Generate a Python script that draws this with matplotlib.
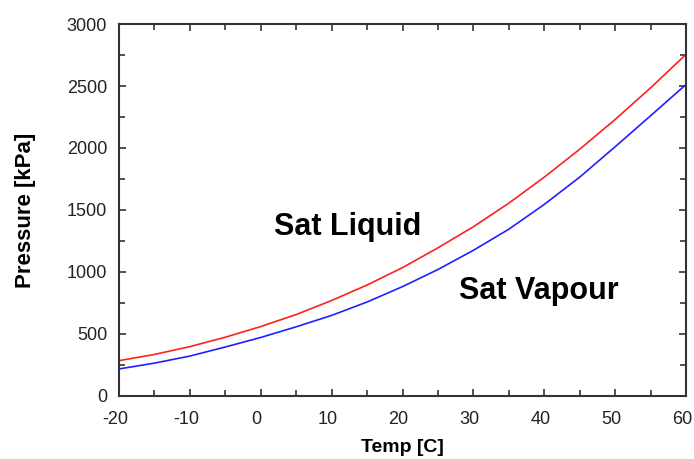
import matplotlib
matplotlib.use("Agg")
from matplotlib import pyplot as plt
from matplotlib.ticker import MultipleLocator
from matplotlib.transforms import ScaledTranslation

# saturation curves
temp = [-20, -15, -10, -5, 0, 5, 10, 15, 20, 25, 30, 35, 40, 45, 50, 55, 60]
p_liquid = [285, 335, 398, 474, 560, 657, 770, 895, 1035, 1195, 1365, 1555,
            1765, 1990, 2230, 2485, 2755]
p_vapour = [218, 265, 322, 395, 472, 558, 650, 758, 882, 1020, 1175, 1345,
            1545, 1765, 2010, 2260, 2512]

plt.rcParams['font.family'] = ['Liberation Sans', 'DejaVu Sans']
plt.rcParams['axes.unicode_minus'] = False

fig = plt.figure(figsize=(6.94, 4.59), dpi=100)
ax = fig.add_axes([0.1715, 0.1373, 0.817, 0.8104])

ax.plot(temp, p_liquid, color='#ff2020', lw=1.2)
ax.plot(temp, p_vapour, color='#2020ff', lw=1.2)

ax.set_xlim(-20, 60)
ax.set_ylim(0, 3000)
ax.xaxis.set_major_locator(MultipleLocator(10))
ax.xaxis.set_minor_locator(MultipleLocator(5))
ax.yaxis.set_major_locator(MultipleLocator(500))
ax.yaxis.set_minor_locator(MultipleLocator(250))

ax.tick_params(which='both', direction='in', top=True, right=True,
               color='#333333', width=1.2)
ax.tick_params(which='major', length=5)
ax.tick_params(which='minor', length=4)
ax.tick_params(axis='y', pad=8.5)
ax.tick_params(axis='x', pad=11)
shift = ScaledTranslation(-4 / 100, 0, fig.dpi_scale_trans)
for lab in ax.get_xticklabels():
    lab.set_transform(lab.get_transform() + shift)
for lab in ax.get_xticklabels() + ax.get_yticklabels():
    lab.set_fontsize(13)
    lab.set_color('#222222')

for s in ax.spines.values():
    s.set_color('#333333')
    s.set_linewidth(1.5)

ax.set_xlabel('Temp [C]', fontsize=14, fontweight='bold', labelpad=8)
ax.set_ylabel('Pressure [kPa]', fontsize=16, fontweight='bold', labelpad=22)

ax.text(12.3, 1366, 'Sat Liquid', fontsize=22, fontweight='bold',
        ha='center', va='center')
ax.text(39.3, 849, 'Sat Vapour', fontsize=22, fontweight='bold',
        ha='center', va='center')

fig.savefig('out.png', dpi=100)
